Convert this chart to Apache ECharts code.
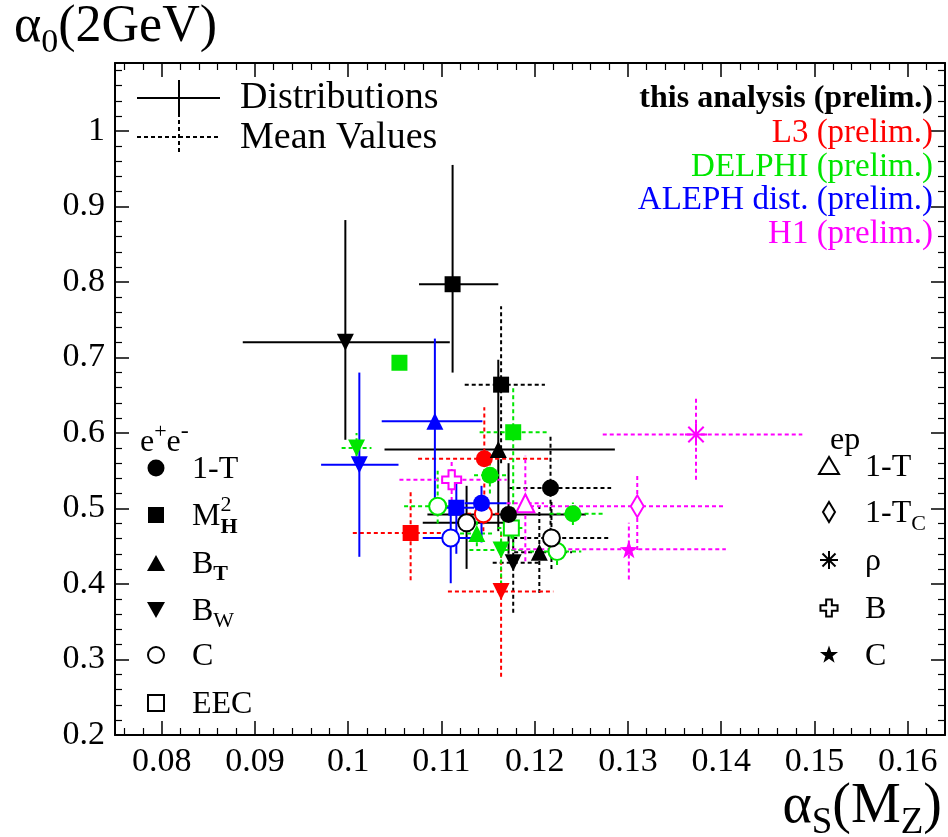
<!DOCTYPE html>
<html><head><meta charset="utf-8">
<script src="https://cdn.jsdelivr.net/npm/echarts@6/dist/echarts.min.js"></script>
<style>html,body{margin:0;padding:0;background:#fff}#c{width:948px;height:837px}</style>
</head><body><div id="c"></div>
<script>
// ---------- data ----------
const xTickLabels = ['0.08','0.09','0.1','0.11','0.12','0.13','0.14','0.15','0.16'];
const yTickLabels = ['0.2','0.3','0.4','0.5','0.6','0.7','0.8','0.9','1'];

// [observable, alpha_s(MZ), alpha_0(2GeV), xLow, xHigh, yLow, yHigh]
const thisDist = [
  ['MH2', 0.1112, 0.797, 0.1076, 0.1161, 0.680, 0.955],
  ['BW',  0.0997, 0.720, 0.0887, 0.1109, 0.591, 0.882],
  ['BT',  0.1161, 0.578, 0.1039, 0.1286, 0.470, 0.697],
  ['1-T', 0.1172, 0.492, 0.1085, 0.1255, 0.440, 0.560],
  ['C',   0.1127, 0.481, 0.1080, 0.1175, 0.420, 0.530]
];
const thisMean = [
  ['MH2', 0.1164, 0.664, 0.1125, 0.1211, 0.560, 0.768],
  ['1-T', 0.1217, 0.527, 0.1173, 0.1282, 0.460, 0.596],
  ['BW',  0.1177, 0.428, 0.1155, 0.1205, 0.362, 0.490],
  ['BT',  0.1205, 0.442, 0.1178, 0.1240, 0.388, 0.503],
  ['C',   0.1218, 0.461, 0.1177, 0.1280, 0.420, 0.510]
];
const l3Mean = [
  ['1-T', 0.1146, 0.566, 0.1075, 0.1216, 0.500, 0.634],
  ['MH2', 0.1067, 0.4675, 0.1005, 0.1113, 0.405, 0.525],
  ['BW',  0.1164, 0.390, 0.1107, 0.1220, 0.277, 0.468],
  ['C',   0.1145, 0.493, 0.1120, 0.1170, 0.470, 0.515]
];
const delphiMean = [
  ['MH2', 0.1055, 0.693, 0.1055, 0.1055, 0.693, 0.693],
  ['MH2', 0.1177, 0.601, 0.1141, 0.1214, 0.450, 0.662],
  ['1-T', 0.1152, 0.544, 0.1135, 0.1170, 0.520, 0.570],
  ['1-T', 0.1241, 0.493, 0.1216, 0.1275, 0.478, 0.508],
  ['BW',  0.1009, 0.580, 0.0993, 0.1025, 0.560, 0.600],
  ['BW',  0.1164, 0.445, 0.1130, 0.1190, 0.390, 0.470],
  ['BT',  0.1138, 0.467, 0.1120, 0.1155, 0.450, 0.485],
  ['C',   0.1096, 0.503, 0.1060, 0.1120, 0.480, 0.550],
  ['C',   0.1224, 0.443, 0.1195, 0.1250, 0.425, 0.460],
  ['EEC', 0.1175, 0.474, 0.1160, 0.1190, 0.460, 0.490]
];
const alephDist = [
  ['BW',  0.1012, 0.558, 0.0971, 0.1054, 0.436, 0.680],
  ['BT',  0.1093, 0.6155, 0.1036, 0.1144, 0.511, 0.725],
  ['MH2', 0.1116, 0.501, 0.1095, 0.1135, 0.440, 0.540],
  ['1-T', 0.1143, 0.507, 0.1125, 0.1170, 0.455, 0.530],
  ['C',   0.1110, 0.461, 0.1080, 0.1140, 0.401, 0.500]
];
const h1Mean = [
  ['rho',  0.1373, 0.598, 0.1273, 0.1487, 0.538, 0.649],
  ['1-TC', 0.1310, 0.503, 0.1195, 0.1405, 0.445, 0.545],
  ['C',    0.1301, 0.446, 0.1176, 0.1405, 0.406, 0.481],
  ['1-T',  0.1190, 0.507, 0.1170, 0.1210, 0.430, 0.570],
  ['B',    0.1111, 0.538, 0.1055, 0.1170, 0.510, 0.565]
];

// ---------- styling ----------
const BLACK = '#000000', RED = '#ff0000', GREEN = '#00e600', BLUE = '#0000ff', MAG = '#ff00ff';
const FONT = '"Liberation Serif", "Times New Roman", serif';

const starPts = [];
for (let i = 0; i < 10; i++) {
  const r = i % 2 ? 4 : 10, a = -Math.PI / 2 + i * Math.PI / 5;
  starPts.push([r * Math.cos(a), r * Math.sin(a)]);
}
const crossPts = [[-3,-9],[3,-9],[3,-3],[9,-3],[9,3],[3,3],[3,9],[-3,9],[-3,3],[-9,3],[-9,-3],[-3,-3]];
const toPath = pts => pts.map((p, i) => (i ? 'L' : 'M') + p[0].toFixed(2) + ',' + p[1].toFixed(2)).join('') + 'Z';
const starPath = toPath(starPts);
const crossPath = toPath(crossPts);
const asteriskPath = 'M0,-10L0,10M-10,0L10,0M-7,-7L7,7M-7,7L7,-7';

function eeSymbol(obs, color) {
  switch (obs) {
    case '1-T': return { symbol: 'circle', symbolSize: 17, itemStyle: { color, opacity: 1 } };
    case 'MH2': return { symbol: 'rect', symbolSize: 16, itemStyle: { color, opacity: 1 } };
    case 'BT':  return { symbol: 'triangle', symbolSize: 17, itemStyle: { color, opacity: 1 } };
    case 'BW':  return { symbol: 'triangle', symbolSize: 17, symbolRotate: 180, itemStyle: { color, opacity: 1 } };
    case 'C':   return { symbol: 'emptyCircle', symbolSize: 17, itemStyle: { color, opacity: 1 } };
    case 'EEC': return { symbol: 'emptyRect', symbolSize: 15, itemStyle: { color, opacity: 1 } };
  }
}
function epSymbol(obs, color) {
  switch (obs) {
    case '1-T':  return { symbol: 'emptyTriangle', symbolSize: 18, itemStyle: { color, opacity: 1 } };
    case '1-TC': return { symbol: 'emptyDiamond', symbolSize: [13, 22], itemStyle: { color, opacity: 1 } };
    case 'rho':  return { symbol: 'path://' + asteriskPath, symbolSize: 22, itemStyle: { color: 'transparent', borderColor: color, borderWidth: 2, opacity: 1 } };
    case 'B':    return { symbol: 'path://' + crossPath, symbolSize: 19, itemStyle: { color: '#fff', borderColor: color, borderWidth: 2, opacity: 1 } };
    case 'C':    return { symbol: 'path://' + starPath, symbolSize: 18, itemStyle: { color, opacity: 1 } };
  }
}

function errSeries(rows, color, dashed) {
  return {
    type: 'custom', silent: true, z: 2, clip: true,
    data: rows.map(r => [r[1], r[2], r[3], r[4], r[5], r[6]]),
    encode: { x: [0, 2, 3], y: [1, 4, 5] },
    renderItem(params, api) {
      const x = api.value(0), y = api.value(1);
      const l = api.coord([api.value(2), y]), r = api.coord([api.value(3), y]);
      const b = api.coord([x, api.value(4)]), t = api.coord([x, api.value(5)]);
      const style = { stroke: color, lineWidth: 2, lineDash: dashed ? [4, 3] : null, fill: null };
      return { type: 'group', children: [
        { type: 'line', shape: { x1: l[0], y1: l[1], x2: r[0], y2: r[1] }, style },
        { type: 'line', shape: { x1: b[0], y1: b[1], x2: t[0], y2: t[1] }, style }
      ] };
    }
  };
}
function markSeries(rows, color, symFn, z) {
  return {
    type: 'scatter', silent: true, z: z || 3,
    itemStyle: { opacity: 1 },
    data: rows.map(r => Object.assign({ value: [r[1], r[2]] }, symFn(r[0], color)))
  };
}

// ---------- text helpers ----------
const mctx = document.createElement('canvas').getContext('2d');
function tw(t, s, bold) { mctx.font = (bold ? 'bold ' : '') + s + 'px ' + FONT; return mctx.measureText(t).width; }
function textEl(x, base, t, s, color, bold, align) {
  return { type: 'text', x: x, y: base - 0.305 * s, silent: true, z: 10,
    style: { text: t, font: (bold ? 'bold ' : '') + s + 'px ' + FONT, fill: color || '#000',
      textAlign: align || 'left', textVerticalAlign: 'middle' } };
}
function run(x, base, parts, color) {
  const els = []; let cx = x;
  for (const p of parts) {
    els.push(textEl(cx, base + (p.dy || 0), p.t, p.s, color, p.bold));
    if (!p.keep) cx += tw(p.t, p.s, p.bold);
  }
  return els;
}
function runWidth(parts) { return parts.reduce((a, p) => a + (p.keep ? 0 : tw(p.t, p.s, p.bold)), 0); }
function shift(pts, cx, cy, k) { return pts.map(p => [cx + p[0] * k, cy + p[1] * k]); }

// ---------- graphic (titles & legends) ----------
const G = [];
// y-axis title
G.push(...run(14, 43, [{ t: 'α', s: 52 }, { t: '0', s: 34, dy: 10 }, { t: '(2GeV)', s: 52 }]));
// x-axis title
const xt = [{ t: 'α', s: 56 }, { t: 'S', s: 37, dy: 11 }, { t: '(M', s: 56 }, { t: 'Z', s: 37, dy: 11 }, { t: ')', s: 56 }];
G.push(...run(942 - runWidth(xt), 824, xt));

// top-left legend
G.push({ type: 'line', silent: true, shape: { x1: 137, y1: 98, x2: 220, y2: 98 }, style: { stroke: '#000', lineWidth: 2 } });
G.push({ type: 'line', silent: true, shape: { x1: 179, y1: 80, x2: 179, y2: 117 }, style: { stroke: '#000', lineWidth: 2 } });
G.push({ type: 'line', silent: true, shape: { x1: 137, y1: 137, x2: 220, y2: 137 }, style: { stroke: '#000', lineWidth: 2, lineDash: [4, 3] } });
G.push({ type: 'line', silent: true, shape: { x1: 179, y1: 120, x2: 179, y2: 154 }, style: { stroke: '#000', lineWidth: 2, lineDash: [4, 3] } });
G.push(textEl(240, 110, 'Distributions', 38));
G.push(textEl(240, 150, 'Mean Values', 38));

// top-right legend
G.push(textEl(933, 108, 'this analysis (prelim.)', 32, '#000', true, 'right'));
G.push(textEl(933, 143, 'L3 (prelim.)', 33, RED, false, 'right'));
G.push(textEl(933, 177, 'DELPHI (prelim.)', 33, GREEN, false, 'right'));
G.push(textEl(933, 210, 'ALEPH dist. (prelim.)', 33, BLUE, false, 'right'));
G.push(textEl(933, 244, 'H1 (prelim.)', 33, MAG, false, 'right'));

// e+e- legend
G.push(...run(140, 452, [{ t: 'e', s: 32 }, { t: '+', s: 22, dy: -13 }, { t: 'e', s: 32 }, { t: '-', s: 24, dy: -13 }]));
const eeY = [468, 515, 563, 610, 655, 703];
const sx = 156;
G.push({ type: 'circle', silent: true, shape: { cx: sx, cy: eeY[0], r: 8.5 }, style: { fill: '#000' } });
G.push({ type: 'rect', silent: true, shape: { x: sx - 8, y: eeY[1] - 8, width: 16, height: 16 }, style: { fill: '#000' } });
G.push({ type: 'polygon', silent: true, shape: { points: [[sx - 9, eeY[2] + 8], [sx + 9, eeY[2] + 8], [sx, eeY[2] - 8]] }, style: { fill: '#000' } });
G.push({ type: 'polygon', silent: true, shape: { points: [[sx - 9, eeY[3] - 8], [sx + 9, eeY[3] - 8], [sx, eeY[3] + 8]] }, style: { fill: '#000' } });
G.push({ type: 'circle', silent: true, shape: { cx: sx, cy: eeY[4], r: 8 }, style: { fill: '#fff', stroke: '#000', lineWidth: 2 } });
G.push({ type: 'rect', silent: true, shape: { x: sx - 8, y: eeY[5] - 8, width: 16, height: 16 }, style: { fill: '#fff', stroke: '#000', lineWidth: 2 } });
const tx = 192;
G.push(...run(tx, eeY[0] + 11, [{ t: '1-T', s: 32 }]));
G.push(...run(tx, eeY[1] + 11, [{ t: 'M', s: 32 }, { t: '2', s: 22, dy: -14, keep: true }, { t: 'H', s: 22, dy: 8, bold: true }]));
G.push(...run(tx, eeY[2] + 11, [{ t: 'B', s: 32 }, { t: 'T', s: 22, dy: 7, bold: true }]));
G.push(...run(tx, eeY[3] + 11, [{ t: 'B', s: 32 }, { t: 'W', s: 22, dy: 7 }]));
G.push(...run(tx, eeY[4] + 11, [{ t: 'C', s: 32 }]));
G.push(...run(tx, eeY[5] + 11, [{ t: 'EEC', s: 32 }]));

// ep legend
G.push(textEl(830, 450, 'ep', 32));
const epY = [466, 512, 560, 608, 655];
const ex = 829;
G.push({ type: 'polygon', silent: true, shape: { points: [[ex - 10, epY[0] + 8], [ex + 10, epY[0] + 8], [ex, epY[0] - 9]] }, style: { fill: '#fff', stroke: '#000', lineWidth: 2 } });
G.push({ type: 'polygon', silent: true, shape: { points: [[ex, epY[1] - 10], [ex + 6, epY[1]], [ex, epY[1] + 10], [ex - 6, epY[1]]] }, style: { fill: '#fff', stroke: '#000', lineWidth: 2 } });
[[0,-9,0,9],[-9,0,9,0],[-6.5,-6.5,6.5,6.5],[-6.5,6.5,6.5,-6.5]].forEach(s => {
  G.push({ type: 'line', silent: true, shape: { x1: ex + s[0], y1: epY[2] + s[1], x2: ex + s[2], y2: epY[2] + s[3] }, style: { stroke: '#000', lineWidth: 2 } });
});
G.push({ type: 'polygon', silent: true, shape: { points: shift(crossPts, ex, epY[3], 0.95) }, style: { fill: '#fff', stroke: '#000', lineWidth: 2 } });
G.push({ type: 'polygon', silent: true, shape: { points: shift(starPts, ex, epY[4], 0.95) }, style: { fill: '#000' } });
const etx = 865;
G.push(...run(etx, epY[0] + 11, [{ t: '1-T', s: 32 }]));
G.push(...run(etx, epY[1] + 11, [{ t: '1-T', s: 32 }, { t: 'C', s: 22, dy: 8 }]));
G.push(...run(etx, epY[2] + 11, [{ t: 'ρ', s: 32 }]));
G.push(...run(etx, epY[3] + 11, [{ t: 'B', s: 32 }]));
G.push(...run(etx, epY[4] + 11, [{ t: 'C', s: 32 }]));

// ---------- axes ----------
const fmt = list => v => { const s = String(+(+v).toFixed(4)); return list.includes(s) ? s : ''; };
const axisCommon = {
  type: 'value', scale: true,
  axisLine: { show: true, onZero: false, lineStyle: { color: '#000', width: 2 } },
  axisTick: { show: true, inside: true, length: 14, lineStyle: { color: '#000', width: 1.5 } },
  minorTick: { show: true, splitNumber: 5, length: 7, lineStyle: { color: '#000', width: 1.2 } },
  splitLine: { show: false }
};
const XMIN = 0.075, XMAX = 0.164, YMIN = 0.2, YMAX = 1.09;

const option = {
  animation: false,
  backgroundColor: '#fff',
  grid: { left: 115, right: 2, top: 63, bottom: 102, containLabel: false },
  xAxis: [
    Object.assign({}, axisCommon, { min: XMIN, max: XMAX, splitNumber: 9, position: 'bottom',
      axisLabel: { formatter: fmt(xTickLabels), color: '#000', fontSize: 34, fontFamily: FONT, margin: 10, showMinLabel: true, showMaxLabel: true } }),
    Object.assign({}, axisCommon, { min: XMIN, max: XMAX, splitNumber: 9, position: 'top', axisLabel: { show: false } })
  ],
  yAxis: [
    Object.assign({}, axisCommon, { min: YMIN, max: YMAX, splitNumber: 9, position: 'left',
      axisLabel: { formatter: fmt(yTickLabels), color: '#000', fontSize: 34, fontFamily: FONT, margin: 10 } }),
    Object.assign({}, axisCommon, { min: YMIN, max: YMAX, splitNumber: 9, position: 'right', axisLabel: { show: false } })
  ],
  graphic: { elements: G },
  series: [
    errSeries(thisDist, BLACK, false),
    errSeries(thisMean, BLACK, true),
    errSeries(l3Mean, RED, true),
    errSeries(delphiMean, GREEN, true),
    errSeries(alephDist, BLUE, false),
    errSeries(h1Mean, MAG, true),
    markSeries(h1Mean, MAG, epSymbol, 3),
    markSeries(l3Mean, RED, eeSymbol, 4),
    markSeries(delphiMean, GREEN, eeSymbol, 4),
    markSeries(alephDist, BLUE, eeSymbol, 5),
    markSeries(thisMean, BLACK, eeSymbol, 6),
    markSeries(thisDist, BLACK, eeSymbol, 6)
  ]
};
const chart = echarts.init(document.getElementById('c'), null, { renderer: 'canvas' });
chart.setOption(option);
</script>
</body></html>
